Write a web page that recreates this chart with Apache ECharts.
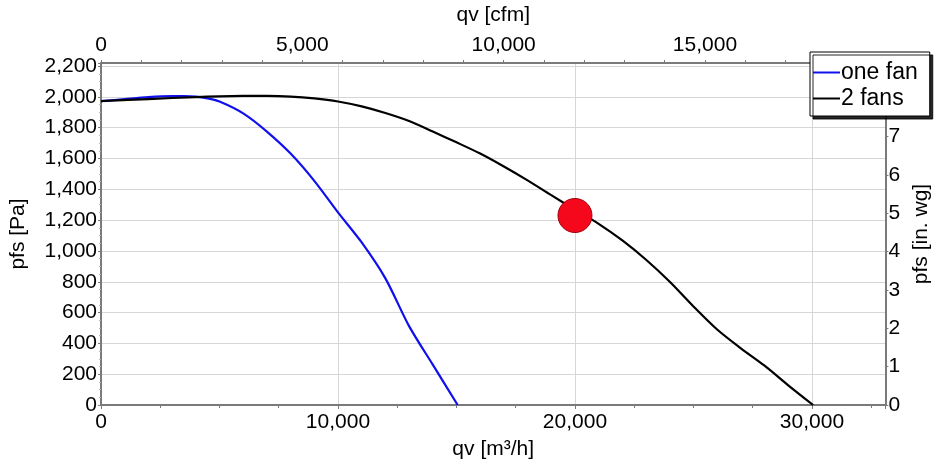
<!DOCTYPE html>
<html>
<head>
<meta charset="utf-8">
<script src="https://cdn.jsdelivr.net/npm/echarts@6/dist/echarts.min.js"></script>
<style>
  html, body { margin: 0; padding: 0; background: #fff; }
  #chart { width: 940px; height: 465px; }
</style>
</head>
<body>
<div id="chart"></div>
<script>
// Fan curve: single fan vs. two fans in parallel
const qvOneFan  = [0, 1000, 2000, 3000, 3500, 4000, 4500, 5000, 6000, 7000, 8000, 9000, 10000, 11000, 12000, 13000, 14000, 15050];
const pfsOneFan = [1972, 1986, 1999, 2005, 2005, 2002, 1990, 1970, 1893, 1775, 1632, 1455, 1250, 1055, 822, 512, 262, 0];

const qvTwoFans  = [0, 2000, 4000, 5000, 6000, 7000, 8000, 9000, 10000, 11000, 12000, 13000, 14000, 15000, 16000, 17000, 18000, 19000, 20000, 21000, 22000, 23000, 24000, 25000, 26000, 27000, 28000, 29000, 30050];
const pfsTwoFans = [1972, 1986, 1999, 2004, 2006, 2006, 2002, 1990, 1970, 1938, 1895, 1843, 1775, 1705, 1632, 1548, 1458, 1362, 1268, 1176, 1068, 943, 800, 640, 490, 368, 255, 128, 0];

const dutyPoint = [20000, 1230];

const seriesNames = ['one fan', '2 fans'];

// Axis ranges (metric) and unit factors for the secondary scales
const qvMax = 33100;          // m³/h
const pfsMax = 2220;          // Pa
const M3H_PER_CFM = 1.699;
const PA_PER_INWG = 249.09;

const FONT = '"Liberation Sans", Arial, sans-serif';
const AXIS_GRAY = '#7a7a7a';
const GRID_GRAY = '#d6d6d6';

const fmt = (step) => (v) => {
  if (Math.abs(v / step - Math.round(v / step)) > 1e-6) return '';
  return Math.round(v).toLocaleString('en-US');
};

const zip = (xs, ys) => xs.map((x, i) => [x, ys[i]]);

const chart = echarts.init(document.getElementById('chart'), null, { renderer: 'canvas' });

const labelStyle = { color: '#000', fontSize: 21, fontFamily: FONT };
const nameStyle = { color: '#000', fontSize: 21, fontFamily: FONT };

chart.setOption({
  animation: false,
  backgroundColor: '#fff',
  grid: { left: 100, right: 50, top: 61, bottom: 58, containLabel: false },
  legend: {
    data: seriesNames,
    orient: 'vertical',
    left: 810,
    top: 52,
    padding: [9, 12, 6, 3],
    itemGap: 3,
    itemWidth: 27,
    itemHeight: 2,
    icon: 'rect',
    backgroundColor: '#fff',
    borderColor: '#000',
    borderWidth: 1,
    borderRadius: 0,
    shadowColor: 'rgba(0,0,0,0.85)',
    shadowOffsetX: 3,
    shadowOffsetY: 3,
    shadowBlur: 0,
    textStyle: { color: '#000', fontSize: 23, fontFamily: FONT, padding: [0, 0, 0, -4] },
    z: 10
  },
  xAxis: [
    {
      type: 'value',
      position: 'bottom',
      min: 0,
      max: qvMax,
      interval: 10000,
      name: 'qv [m³/h]',
      nameLocation: 'middle',
      nameGap: 34,
      nameTextStyle: nameStyle,
      axisLine: { show: true, onZero: false, lineStyle: { color: AXIS_GRAY, width: 2 } },
      axisTick: { show: true, length: 4, lineStyle: { color: AXIS_GRAY } },
      minorTick: { show: true, splitNumber: 4, length: 3, lineStyle: { color: AXIS_GRAY } },
      axisLabel: Object.assign({ margin: 7, formatter: fmt(10000) }, labelStyle),
      splitLine: { show: true, lineStyle: { color: GRID_GRAY, width: 1 } }
    },
    {
      type: 'value',
      position: 'top',
      min: 0,
      max: qvMax / M3H_PER_CFM,
      interval: 5000,
      name: 'qv [cfm]',
      nameLocation: 'middle',
      nameGap: 37,
      nameTextStyle: nameStyle,
      axisLine: { show: true, onZero: false, lineStyle: { color: AXIS_GRAY, width: 2 } },
      axisTick: { show: true, length: 3, lineStyle: { color: AXIS_GRAY } },
      minorTick: { show: true, splitNumber: 5, length: 3, lineStyle: { color: AXIS_GRAY } },
      axisLabel: Object.assign({ margin: 7, formatter: fmt(5000) }, labelStyle),
      splitLine: { show: false }
    }
  ],
  yAxis: [
    {
      type: 'value',
      position: 'left',
      min: 0,
      max: pfsMax,
      interval: 200,
      name: 'pfs [Pa]',
      nameLocation: 'middle',
      nameGap: 72,
      nameTextStyle: nameStyle,
      axisLine: { show: true, onZero: false, lineStyle: { color: AXIS_GRAY, width: 2 } },
      axisTick: { show: true, length: 3, lineStyle: { color: AXIS_GRAY } },
      minorTick: { show: true, splitNumber: 4, length: 2, lineStyle: { color: '#b0b0b0' } },
      axisLabel: Object.assign({ margin: 4, formatter: fmt(200) }, labelStyle),
      splitLine: { show: true, lineStyle: { color: GRID_GRAY, width: 1 } }
    },
    {
      type: 'value',
      position: 'right',
      min: 0,
      max: pfsMax / PA_PER_INWG,
      interval: 1,
      name: 'pfs [in. wg]',
      nameLocation: 'middle',
      nameGap: 21,
      nameTextStyle: nameStyle,
      axisLine: { show: true, onZero: false, lineStyle: { color: AXIS_GRAY, width: 2 } },
      axisTick: { show: true, length: 3, lineStyle: { color: AXIS_GRAY } },
      axisLabel: Object.assign({ margin: 3, formatter: fmt(1) }, labelStyle),
      splitLine: { show: false }
    }
  ],
  series: [
    {
      name: seriesNames[0],
      type: 'line',
      xAxisIndex: 0,
      yAxisIndex: 0,
      data: zip(qvOneFan, pfsOneFan),
      smooth: 0.3,
      showSymbol: false,
      lineStyle: { color: '#1010ee', width: 2.2 },
      itemStyle: { color: '#1010ee' },
      z: 3
    },
    {
      name: seriesNames[1],
      type: 'line',
      xAxisIndex: 0,
      yAxisIndex: 0,
      data: zip(qvTwoFans, pfsTwoFans),
      smooth: 0.3,
      showSymbol: false,
      lineStyle: { color: '#000', width: 2.2 },
      itemStyle: { color: '#000' },
      z: 3
    },
    {
      name: 'duty point',
      type: 'scatter',
      xAxisIndex: 0,
      yAxisIndex: 0,
      data: [dutyPoint],
      symbol: 'circle',
      symbolSize: 34,
      itemStyle: { color: '#f5081c', borderColor: '#a0000c', borderWidth: 1, opacity: 1 },
      z: 5
    }
  ]
});
</script>
</body>
</html>
